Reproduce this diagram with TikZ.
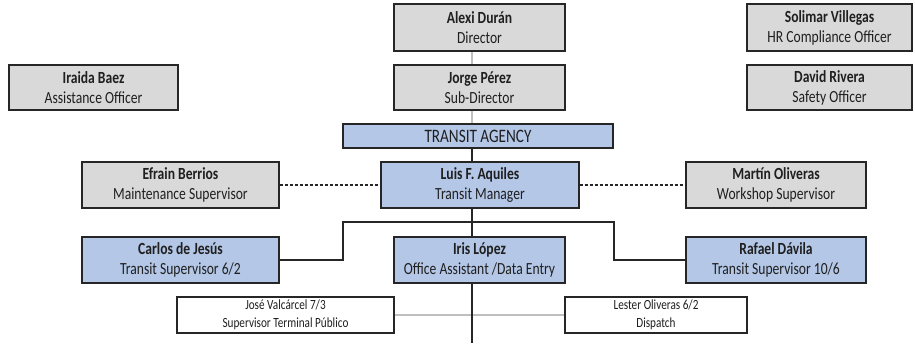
\documentclass[tikz,border=0pt]{standalone}
\usepackage{fontspec}
\setmainfont[FakeStretch=0.8]{Carlito}
\definecolor{boxgray}{HTML}{D9D9D9}
\definecolor{boxblue}{HTML}{B4C7E7}
\definecolor{edge}{HTML}{262626}
\definecolor{txt}{HTML}{1F1F1F}
\definecolor{lgray}{HTML}{BFBFBF}
\tikzset{
  base/.style={draw=edge, line width=1.3pt, inner sep=0pt, align=center, text=txt, anchor=center},
  graybox/.style={base, fill=boxgray, font=\fontsize{17}{20}\selectfont},
  bluebox/.style={base, fill=boxblue, font=\fontsize{17}{20}\selectfont},
  whitebox/.style={base, fill=white, line width=1.1pt, font=\fontsize{14}{18}\selectfont},
  blackline/.style={draw=edge, line width=1.2pt},
  grayline/.style={draw=lgray, line width=1.2pt},
  dashline/.style={draw=edge, line width=1.2pt, dash pattern=on 3pt off 2pt},
}
\begin{document}
\begin{tikzpicture}[x=1pt,y=-1pt]
\useasboundingbox (0,0) rectangle (915,343);
\coordinate (spine) at (472,0);
\coordinate (bot) at (472,343);
\coordinate (cl) at (343,222);
\coordinate (cr) at (614,222);
% boxes
\node[graybox, minimum width=171pt, minimum height=47pt] (alexi) at (479.5,27.5) {\textbf{Alexi Durán}\\Director};
\node[graybox, minimum width=171pt, minimum height=45pt] (jorge) at (479.5,87.5) {\textbf{Jorge Pérez}\\Sub-Director};
\node[bluebox, minimum width=270pt, minimum height=24pt, font=\fontsize{19}{22}\selectfont] (agency) at (478,136) {TRANSIT AGENCY};
\node[bluebox, minimum width=198pt, minimum height=46pt] (luis) at (480,185) {\textbf{Luis F. Aquiles}\\Transit Manager};
\node[graybox, minimum width=169pt, minimum height=45pt] (iraida) at (93.5,87.5) {\textbf{Iraida Baez}\\Assistance Officer};
\node[graybox, minimum width=165pt, minimum height=47pt] (solimar) at (829.5,27.5) {\textbf{Solimar Villegas}\\HR Compliance Officer};
\node[graybox, minimum width=165pt, minimum height=45pt] (david) at (829.5,87.5) {\textbf{David Rivera}\\Safety Officer};
\node[graybox, minimum width=197pt, minimum height=46pt] (efrain) at (180.5,185) {\textbf{Efrain Berrios}\\Maintenance Supervisor};
\node[graybox, minimum width=180pt, minimum height=46pt] (martin) at (776,185) {\textbf{Martín Oliveras}\\Workshop Supervisor};
\node[bluebox, minimum width=197pt, minimum height=46pt] (carlos) at (180.5,260) {\textbf{Carlos de Jesús}\\Transit Supervisor 6/2};
\node[bluebox, minimum width=171pt, minimum height=46pt] (iris) at (479.5,260) {\textbf{Iris López}\\Office Assistant /Data Entry};
\node[bluebox, minimum width=180pt, minimum height=46pt] (rafael) at (776,260) {\textbf{Rafael Dávila}\\Transit Supervisor 10/6};
\node[whitebox, minimum width=217pt, minimum height=36pt] (jose) at (285.5,315) {José Valcárcel 7/3\\Supervisor Terminal Público};
\node[whitebox, minimum width=182pt, minimum height=36pt] (lester) at (656,315) {Lester Oliveras 6/2\\Dispatch};
% connectors
\draw[grayline] (alexi.south -| spine) -- (jorge.north -| spine);
\draw[grayline] (jorge.south -| spine) -- (agency.north -| spine);
\draw[blackline] (agency.south -| spine) -- (luis.north -| spine);
\draw[grayline] (jose.east) -- (lester.west);
\draw[blackline] (luis.south -| spine) -- (iris.north -| spine);
\draw[blackline] (iris.south -| spine) -- (bot);
\draw[blackline] (carlos.east) -| (cl) -- (cr) |- (rafael.west);
\draw[dashline] (efrain.east) -- (luis.west);
\draw[dashline] (luis.east) -- (martin.west);
\end{tikzpicture}
\end{document}
